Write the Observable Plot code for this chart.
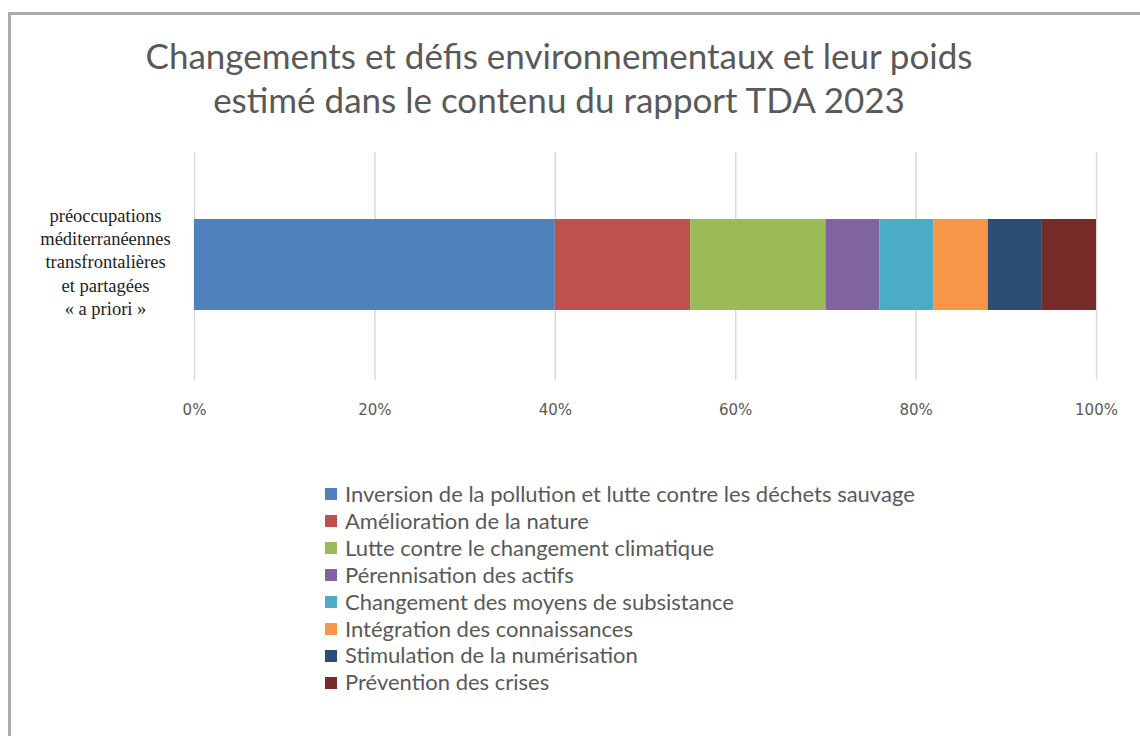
<!DOCTYPE html>
<html><head><meta charset="utf-8">
<script src="https://cdn.jsdelivr.net/npm/d3@7"></script>
<script src="https://cdn.jsdelivr.net/npm/@observablehq/plot@0.6"></script>
<style>
body{margin:0;background:#fff;width:1140px;height:736px;overflow:hidden;position:relative;font-family:Lato,sans-serif}
#frame{position:absolute;left:8px;top:12px;width:1200px;height:800px;border-left:3px solid #ababab;border-top:3px solid #ababab}
#title{position:absolute;left:0;width:1118px;top:33px;text-align:center;font-size:35px;line-height:44px;color:#595959}
#chart{position:absolute;left:0;top:140px}
#legend{position:absolute;left:325px;top:481px;font-size:22px;color:#595959;line-height:26.9px}
.item{white-space:nowrap;display:flex;align-items:center}
.sw{display:inline-block;width:12px;height:12px;margin-right:8px}
</style></head>
<body>
<div id="frame"></div>
<div id="title">Changements et défis environnementaux et leur poids<br>estimé dans le contenu du rapport TDA 2023</div>
<div id="chart"></div>
<div id="legend"></div>
<script>
const categories = [
  "Inversion de la pollution et lutte contre les déchets sauvage",
  "Amélioration de la nature",
  "Lutte contre le changement climatique",
  "Pérennisation des actifs",
  "Changement des moyens de subsistance",
  "Intégration des connaissances",
  "Stimulation de la numérisation",
  "Prévention des crises"
];
const values = [40, 15, 15, 6, 6, 6, 6, 6];
const colors = ["#4F81BD", "#C0504D", "#9BBB59", "#8064A2", "#4BACC6", "#F79646", "#2C4D75", "#772C2A"];
const rowLabel = "préoccupations\nméditerranéennes\ntransfrontalières\net partagées\n« a priori »";
const xTicks = [0, 20, 40, 60, 80, 100];

const data = categories.map((c, i) => ({cat: c, value: values[i], row: rowLabel}));

const chart = Plot.plot({
  width: 1140,
  height: 300,
  marginLeft: 194,
  marginRight: 44,
  marginTop: 12,
  marginBottom: 60,
  x: {domain: [0, 100], ticks: xTicks, tickFormat: d => d + "%", label: null},
  y: {domain: [rowLabel], padding: 0.43, axis: null},
  color: {domain: categories, range: colors},
  style: {fontFamily: "DejaVu Sans", fontSize: "15px", color: "#595959", background: "transparent"},
  marks: [
    Plot.ruleX(xTicks, {stroke: "#d9d9d9", strokeWidth: 1.5, strokeOpacity: 1}),
    Plot.barX(data, Plot.stackX({x: "value", y: "row", fill: "cat", order: categories, dy: -2})),
    Plot.axisX({ticks: xTicks, tickFormat: d => d + "%", tickSize: 0, tickPadding: 24, label: null, fontSize: 15, fill: "#595959"}),
    Plot.text([rowLabel], {y: d => d, frameAnchor: "left", dx: -89, dy: -6, textAnchor: "middle", lineHeight: 1.25, fontSize: 18.5, fontFamily: "Liberation Serif", fill: "#222"})
  ]
});
document.getElementById("chart").appendChild(chart);

const legend = document.getElementById("legend");
categories.forEach((c, i) => {
  const d = document.createElement("div");
  d.className = "item";
  d.innerHTML = `<span class="sw" style="background:${colors[i]}"></span><span>${c}</span>`;
  legend.appendChild(d);
});
</script>
</body></html>
